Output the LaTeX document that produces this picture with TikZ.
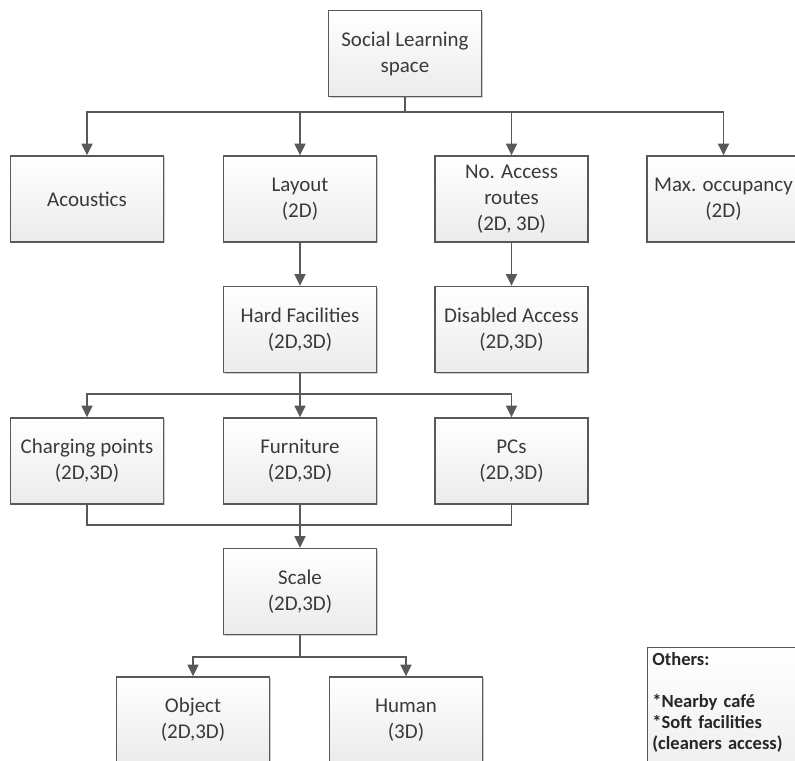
\documentclass[tikz,border=0pt]{standalone}
\usepackage{fontspec}
\setmainfont{Carlito}
\usetikzlibrary{arrows.meta,shadows}
\definecolor{linegray}{HTML}{595959}
\definecolor{textgray}{HTML}{3A3A3A}
\definecolor{boxgray}{HTML}{EBEBEB}
\begin{document}
\begin{tikzpicture}
    [
    x=0.03cm, y=-0.03cm,
    box/.style={rectangle,draw=linegray,line width=1.2pt,top color=white,bottom color=boxgray,
      drop shadow={shadow xshift=1.2pt,shadow yshift=-1.2pt,opacity=0.2,fill=black},
      minimum width=4.59cm,minimum height=2.58cm,inner sep=2pt,align=center,text=textgray,
      font=\fontsize{17.9pt}{22.1pt}\selectfont},
    note/.style={box,anchor=north west,align=left,minimum width=0pt,minimum height=0pt,
      text width=4.7cm,inner sep=4pt,font=\fontsize{15.8pt}{17.9pt}\selectfont\bfseries,text=black!85},
    arr/.style={draw=linegray,line width=1.1pt,-{Triangle[length=10pt,width=9.5pt]}},
    link/.style={draw=linegray,line width=1.1pt}
    ]
    \clip (0,0) rectangle (795,760);
    \node (social) at (405,53.5) [box] {Social Learning\\space};
    \node (acoustics) at (87,199) [box] {Acoustics};
    \node (layout) at (300,199) [box] {Layout\\(2D)};
    \node (access) at (511.5,199) [box] {No. Access\\routes\\(2D, 3D)};
    \node (maxocc) at (723.5,199) [box] {Max. occupancy\\(2D)};
    \node (hard) at (300,329.5) [box] {Hard Facilities\\(2D,3D)};
    \node (disabled) at (511.5,329.5) [box] {Disabled Access\\(2D,3D)};
    \node (charging) at (87,461) [box] {Charging points\\(2D,3D)};
    \node (furniture) at (300,461) [box] {Furniture\\(2D,3D)};
    \node (pcs) at (511.5,461) [box] {PCs\\(2D,3D)};
    \node (scale) at (300,591.5) [box] {Scale\\(2D,3D)};
    \node (object) at (193,720) [box] {Object\\(2D,3D)};
    \node (human) at (406,720) [box] {Human\\(3D)};
    \node (others) at (647,647) [note] {Others:\\[17.9pt]{*}Nearby café\\{*}Soft facilities\\(cleaners access)\\\mbox{}\\\mbox{}};
    \coordinate (top) at (405,112);
    \coordinate (hardsplit) at (300,394);
    \coordinate (merge) at (300,525);
    \coordinate (scalesplit) at (300,657);
    \draw [link] (social) -- (top);
    \draw [arr] (top) -| (acoustics);
    \draw [arr] (top) -| (layout);
    \draw [arr] (top) -| (access);
    \draw [arr] (top) -| (maxocc);
    \draw [arr] (layout) -- (hard);
    \draw [arr] (access) -- (disabled);
    \draw [link] (hard) -- (hardsplit);
    \draw [arr] (hardsplit) -| (charging);
    \draw [arr] (hardsplit) -| (furniture);
    \draw [arr] (hardsplit) -| (pcs);
    \draw [link] (charging) |- (merge);
    \draw [link] (pcs) |- (merge);
    \draw [arr] (furniture) -- (scale);
    \draw [link] (scale) -- (scalesplit);
    \draw [arr] (scalesplit) -| (object);
    \draw [arr] (scalesplit) -| (human);
  \end{tikzpicture}
\end{document}
